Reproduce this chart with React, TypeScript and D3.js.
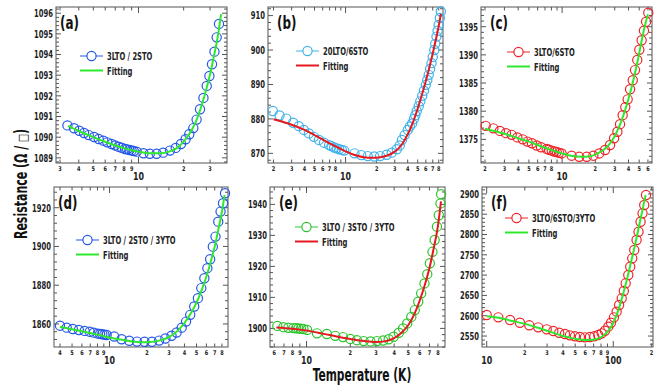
import * as d3 from 'd3';

const FONT = "'DejaVu Sans Condensed', 'DejaVu Sans', sans-serif";

const BLUE = '#2457e6';
const SKY = '#3fb2ea';
const RED = '#ee2429';
const GREEN = '#2cc42c';
const LIME = '#2ee82e';
const FIT_RED = '#e5191f';

// [T (K), R (ohm/sq)]
const aData = [
  [3.36, 1090.57], [3.72, 1090.43], [4.03, 1090.31], [4.34, 1090.2], [4.66, 1090.1], [5.06, 1090.01],
  [5.43, 1089.91], [5.83, 1089.83], [6.2, 1089.75], [6.62, 1089.67], [6.98, 1089.6], [7.34, 1089.54],
  [7.73, 1089.49], [8.13, 1089.43], [8.4, 1089.41], [8.7, 1089.38], [9.0, 1089.36], [9.3, 1089.33],
  [9.73, 1089.3], [10.8, 1089.22], [11.9, 1089.2], [13.2, 1089.2], [14.6, 1089.25], [16.2, 1089.35],
  [17.7, 1089.48], [19.2, 1089.67], [20.6, 1089.9], [21.8, 1090.14], [23.2, 1090.44], [24.4, 1090.85],
  [25.7, 1091.35], [27.1, 1091.9], [28.5, 1092.48], [29.7, 1092.96], [30.9, 1093.53], [32.1, 1094.14],
  [33.2, 1094.83], [34.4, 1095.48],
];
const aFit = [
  [3.4, 1090.55], [4, 1090.3], [5, 1090.0], [6, 1089.78], [7, 1089.6], [8, 1089.47], [9, 1089.37],
  [10, 1089.3], [12, 1089.22], [14, 1089.22], [16, 1089.3], [18, 1089.47], [20, 1089.78], [22, 1090.2],
  [24, 1090.72], [26, 1091.4], [28, 1092.2], [30, 1093.05], [32, 1094.0], [34, 1095.0], [35.5, 1095.95],
];

const bData = [
  [1.97, 882.3], [2.29, 881.0], [2.66, 880.1], [3.1, 878.9], [3.52, 877.9], [3.94, 876.8], [4.41, 875.8],
  [4.93, 874.8], [5.52, 873.9], [6.18, 873.1], [6.92, 872.4], [7.3, 872.1], [7.75, 871.7], [8.2, 871.45],
  [8.67, 871.2], [9.2, 871.0], [9.7, 870.8], [12.2, 870.0], [14.2, 869.5], [16.4, 869.2], [19.0, 869.1],
  [21.6, 869.2], [25.0, 869.6], [28.0, 870.2], [31.4, 871.2], [33.5, 872.3], [35.2, 873.9], [37.4, 875.3],
  [40.1, 876.8], [42.0, 877.8], [44.2, 878.7], [46.0, 880.0], [47.4, 881.1], [49.0, 882.3], [51.2, 883.7],
  [53.0, 885.1], [55.4, 886.7], [57.5, 888.2], [60.0, 889.9], [62.0, 891.3], [64.0, 892.8], [66.0, 894.5],
  [68.1, 896.2], [70.0, 898.0], [72.5, 900.0], [74.0, 901.8], [76.1, 903.9], [78.0, 905.6], [79.8, 907.3],
  [82.0, 909.3], [83.8, 911.2],
];
const bFit = [
  [2, 879.9], [3, 878.3], [4, 876.8], [5, 875.3], [6, 874.0], [7, 872.9], [8, 872.0], [10, 870.6],
  [12, 869.6], [15, 868.9], [18, 868.7], [21, 868.8], [25, 869.3], [30, 870.5], [35, 872.5], [40, 875.5],
  [45, 879.0], [50, 883.0], [55, 887.0], [60, 891.0], [65, 895.0], [70, 899.0], [75, 903.0], [80, 907.0],
  [84, 910.5],
];

const cData = [
  [2.03, 1377.4], [2.38, 1376.95], [2.73, 1376.5], [3.1, 1376.1], [3.49, 1375.8], [3.93, 1375.35],
  [4.39, 1375.0], [4.85, 1374.6], [5.33, 1374.3], [5.89, 1373.9], [6.44, 1373.6], [7.25, 1373.3],
  [7.6, 1373.15], [8.05, 1373.0], [8.5, 1372.85], [8.93, 1372.75], [9.4, 1372.6], [9.9, 1372.5],
  [12.2, 1372.1], [14.3, 1371.9], [16.7, 1371.9], [19.2, 1372.1], [21.7, 1372.5], [24.5, 1373.1],
  [27.2, 1374.0], [29.6, 1375.2], [31.7, 1376.35], [33.5, 1377.7], [35.4, 1379.3], [37.4, 1380.7],
  [39.3, 1382.1], [41.3, 1383.9], [43.7, 1385.5], [45.8, 1387.3], [48.0, 1389.1], [50.1, 1390.9],
  [52.6, 1392.6], [55.2, 1394.3], [57.7, 1395.9], [60.4, 1397.5],
];
const cFit = [
  [2, 1376.9], [3, 1376.0], [4, 1375.2], [5, 1374.6], [6, 1374.0], [7, 1373.5], [8, 1373.1], [10, 1372.5],
  [12, 1372.1], [15, 1371.9], [18, 1372.0], [21, 1372.5], [24, 1373.2], [27, 1374.2], [30, 1375.6],
  [33, 1377.3], [36, 1379.3], [40, 1382.2], [44, 1385.3], [48, 1388.6], [52, 1392.0], [56, 1395.0],
  [60, 1397.2],
];

const dData = [
  [4.0, 1859.1], [4.53, 1858.1], [5.07, 1857.4], [5.67, 1856.9], [6.31, 1856.4], [6.93, 1856.0],
  [7.48, 1855.5], [8.06, 1855.0], [8.4, 1854.85], [8.75, 1854.7], [9.1, 1854.5], [9.48, 1854.3],
  [10.9, 1853.5], [12.5, 1852.1], [14.4, 1851.3], [16.6, 1850.9], [19.1, 1850.8], [21.9, 1850.8],
  [25.0, 1851.4], [28.1, 1852.5], [31.5, 1853.9], [34.6, 1855.6], [38.0, 1858.1], [41.2, 1861.2],
  [44.5, 1864.7], [47.9, 1869.0], [51.3, 1873.3], [54.6, 1878.5], [57.8, 1883.6], [61.1, 1888.8],
  [64.3, 1893.4], [67.6, 1899.9], [71.0, 1905.1], [74.7, 1912.8], [78.0, 1918.0], [81.6, 1922.3],
  [84.7, 1927.5],
];
const dFit = [
  [4, 1858.6], [5, 1857.3], [6, 1856.2], [7, 1855.3], [8, 1854.5], [10, 1853.0], [12, 1852.0],
  [15, 1851.0], [18, 1850.6], [21, 1850.7], [25, 1851.4], [30, 1853.2], [35, 1856.3], [40, 1860.5],
  [45, 1865.5], [50, 1871.0], [55, 1877.5], [60, 1884.5], [65, 1892.0], [70, 1900.0], [75, 1909.0],
  [80, 1918.0], [84, 1926.5],
];

const eData = [
  [6.3, 1900.8], [6.93, 1900.4], [7.5, 1900.2], [8.12, 1900.1], [8.5, 1900.05], [8.79, 1900.0],
  [9.15, 1899.9], [9.52, 1899.8], [10.1, 1899.5], [11.8, 1898.4], [13.8, 1898.2], [15.75, 1897.6],
  [17.8, 1897.2], [20, 1896.6], [22.2, 1896.2], [24.7, 1895.9], [27.5, 1895.8], [30.5, 1895.9],
  [33.6, 1896.1], [36.7, 1896.5], [39.7, 1897.3], [43.1, 1898.6], [46.1, 1900.0], [49.2, 1901.6],
  [52.5, 1903.7], [55.5, 1905.9], [58.6, 1908.6], [61.4, 1911.3], [64.7, 1914.5], [67.6, 1917.5],
  [70.4, 1921.0], [73.4, 1924.7], [76.0, 1928.5], [78.8, 1932.8], [81.1, 1936.5], [83.3, 1940.3],
  [84.2, 1943.3],
];
const eFit = [
  [6.2, 1900.3], [8, 1899.9], [10, 1899.3], [12, 1898.6], [15, 1897.7], [20, 1896.6], [25, 1895.9],
  [30, 1895.6], [35, 1895.9], [40, 1896.9], [45, 1898.6], [50, 1901.0], [55, 1904.5], [60, 1909.0],
  [65, 1914.0], [70, 1919.5], [75, 1926.0], [80, 1933.0], [84, 1941.0],
];

const fData = [
  [10, 2601.7], [12.35, 2596], [15.3, 2589.4], [18.3, 2582.8], [21.7, 2576.4], [25.5, 2571.4],
  [29.8, 2566.5], [33.6, 2562.3], [37.4, 2558.2], [41.5, 2554.9], [45.4, 2551.7], [49.8, 2549.3],
  [54.5, 2547.5], [59.7, 2546.8], [65.4, 2547.5], [70.8, 2549.3], [76.1, 2552.5], [81.0, 2556.6],
  [86.0, 2563], [91.3, 2573], [95.9, 2582.8], [101.2, 2596], [106.3, 2610], [111.2, 2626.4],
  [116.6, 2642.8], [121.2, 2660.8], [125.3, 2679.8], [131.4, 2700.2], [136.1, 2720.7], [141.2, 2741.4],
  [146.4, 2761.8], [152.8, 2786.5], [158.4, 2806.9], [164.3, 2831.5], [170.3, 2852.2], [175.6, 2872.7],
  [181.4, 2897.3],
];
const fFit = [
  [10, 2599], [13, 2594], [16, 2587], [20, 2580], [25, 2571], [30, 2563], [35, 2556], [40, 2550],
  [50, 2543], [60, 2540], [70, 2541], [80, 2547], [90, 2560], [100, 2582], [110, 2615], [120, 2655],
  [130, 2697], [140, 2740], [150, 2780], [160, 2822], [170, 2860], [180, 2897],
];

const panels = [
  { id: '(a)', box: [56, 7, 227, 163], xDom: [2.82, 38.9], yDom: [1088.75, 1096.3], yMajor: 1, yMinor: 0.2,
    data: aData, fit: aFit, mark: BLUE, fitColor: LIME, name: '3LTO / 2STO', leg: [80, 56], hide9: false },
  { id: '(b)', box: [268, 7, 443, 163], xDom: [1.77, 88], yDom: [867.2, 912.5], yMajor: 10, yMinor: 2,
    data: bData, fit: bFit, mark: SKY, fitColor: FIT_RED, name: '20LTO/6STO', leg: [296, 51], hide9: true },
  { id: '(c)', box: [481, 7, 652, 163], xDom: [1.84, 65.3], yDom: [1370.8, 1398.5], yMajor: 5, yMinor: 1,
    data: cData, fit: cFit, mark: RED, fitColor: LIME, name: '3LTO/6STO', leg: [507, 52], hide9: true },
  { id: '(d)', box: [54, 187, 228, 347], xDom: [3.58, 89.5], yDom: [1848.1, 1930.7], yMajor: 20, yMinor: 4,
    data: dData, fit: dFit, mark: BLUE, fitColor: LIME, name: '3LTO / 2STO / 3YTO', leg: [76, 240], hide9: false },
  { id: '(e)', box: [270, 187, 445, 347], xDom: [5.61, 89.5], yDom: [1894.0, 1945.6], yMajor: 10, yMinor: 2,
    data: eData, fit: eFit, mark: GREEN, fitColor: FIT_RED, name: '3LTO / 3STO / 3YTO', leg: [295, 227], hide9: false },
  { id: '(f)', box: [482, 187, 653, 347], xDom: [9.18, 206], yDom: [2523, 2917], yMajor: 50, yMinor: 10,
    data: fData, fit: fFit, mark: RED, fitColor: LIME, name: '3LTO/6STO/3YTO', leg: [505, 218], hide9: false },
];

// condensed look: the installed fonts have no narrow bold, so squeeze horizontally
function Txt({ x, y, size, anchor = 'start', children, fill = '#222', sx = 0.8 }) {
  return (
    <text transform={`translate(${x},${y}) scale(${sx},1)`} fontSize={size} fontWeight="bold"
      textAnchor={anchor} fill={fill}>{children}</text>
  );
}

function Panel({ p }) {
  const [x0, y0, x1, y1] = p.box;
  const x = d3.scaleLog().domain(p.xDom).range([x0, x1]);
  const y = d3.scaleLinear().domain(p.yDom).range([y1, y0]);
  const isDecade = (t) => Math.abs(Math.log10(t) - Math.round(Math.log10(t))) < 1e-6;
  const xTicks = x.ticks().filter((t) => t >= p.xDom[0] && t <= p.xDom[1]);
  const yMaj = d3.range(Math.ceil(p.yDom[0] / p.yMajor) * p.yMajor, p.yDom[1], p.yMajor);
  const yMin = d3.range(Math.ceil(p.yDom[0] / p.yMinor) * p.yMinor, p.yDom[1], p.yMinor)
    .filter((v) => Math.abs(v / p.yMajor - Math.round(v / p.yMajor)) > 1e-6);
  const line = d3.line().x((d) => x(d[0])).y((d) => y(d[1])).curve(d3.curveMonotoneX);
  const [lx, ly] = p.leg;

  return (
    <g>
      <rect x={x0} y={y0} width={x1 - x0} height={y1 - y0} fill="none" stroke="#555" strokeWidth={1} />
      {xTicks.map((t) => {
        const big = isDecade(t);
        const len = big ? 6 : 3.5;
        const px = x(t);
        const digit = Math.round(t / Math.pow(10, Math.floor(Math.log10(t) + 1e-9)));
        const show = big || !(p.hide9 && digit === 9);
        return (
          <g key={'x' + t}>
            <line x1={px} x2={px} y1={y1} y2={y1 - len} stroke="#555" />
            <line x1={px} x2={px} y1={y0} y2={y0 + len} stroke="#555" />
            {show && !big && <Txt x={px} y={y1 + 7.5} size={6.5} anchor="middle" sx={0.85}>{digit}</Txt>}
            {big && <Txt x={px} y={y1 + 17} size={11} anchor="middle">{Math.round(t)}</Txt>}
          </g>
        );
      })}
      {yMaj.map((v) => (
        <g key={'y' + v}>
          <line x1={x0} x2={x0 + 5} y1={y(v)} y2={y(v)} stroke="#555" />
          <line x1={x1} x2={x1 - 5} y1={y(v)} y2={y(v)} stroke="#555" />
          <Txt x={x0 - 3} y={y(v) + 3.8} size={10.5} anchor="end" sx={0.72}>{v}</Txt>
        </g>
      ))}
      {yMin.map((v) => (
        <g key={'m' + v}>
          <line x1={x0} x2={x0 + 3} y1={y(v)} y2={y(v)} stroke="#555" />
          <line x1={x1} x2={x1 - 3} y1={y(v)} y2={y(v)} stroke="#555" />
        </g>
      ))}
      {p.data.map((d, i) => (
        <circle key={i} cx={x(d[0])} cy={y(d[1])} r={4.6} fill="none" stroke={p.mark} strokeWidth={1.2} />
      ))}
      <path d={line(p.fit)} fill="none" stroke={p.fitColor} strokeWidth={2} />
      <Txt x={p.id === '(a)' || p.id === '(d)' ? x0 + 4 : x0 + 9} y={y0 + 22} size={17} fill="#111" sx={0.78}>{p.id}</Txt>
      <line x1={lx} x2={lx + 23} y1={ly} y2={ly} stroke={p.mark} strokeWidth={1} />
      <circle cx={lx + 11.5} cy={ly} r={4.6} fill="white" stroke={p.mark} strokeWidth={1.2} />
      <Txt x={lx + 27} y={ly + 4} size={10.5} sx={0.72}>{p.name}</Txt>
      <line x1={lx} x2={lx + 23} y1={ly + 14.5} y2={ly + 14.5} stroke={p.fitColor} strokeWidth={2} />
      <Txt x={lx + 27} y={ly + 18.5} size={10.5} sx={0.72}>Fitting</Txt>
    </g>
  );
}

export default function App() {
  return (
    <div>
      <style>{'body{margin:0}'}</style>
      <svg width={664} height={389} style={{ display: 'block', background: '#fff', fontFamily: FONT }}>
        {panels.map((p) => <Panel key={p.id} p={p} />)}
        <text transform="translate(27,184) rotate(-90) scale(0.72,1)" fontSize={17} fontWeight="bold"
          textAnchor="middle" fill="#111">
          Resistance (Ω / <tspan fontSize={13}>□</tspan>)
        </text>
        <Txt x={362} y={381} size={17} anchor="middle" fill="#111" sx={0.7}>Temperature (K)</Txt>
      </svg>
    </div>
  );
}
